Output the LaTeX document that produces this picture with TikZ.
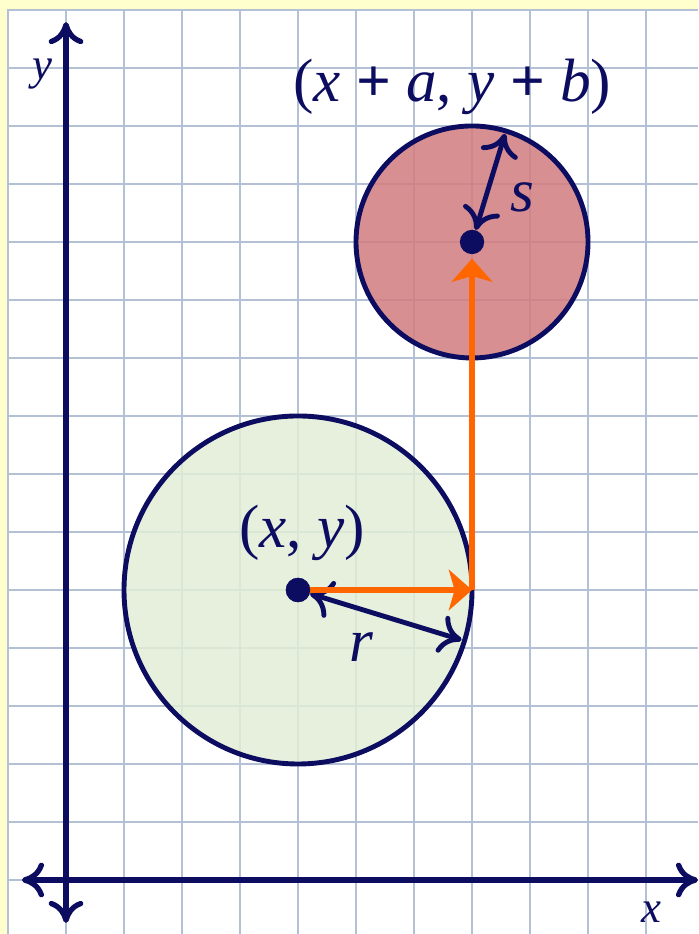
\documentclass[tikz,border=0pt]{standalone}
\usepackage{fontspec}
\setmainfont{Liberation Serif}
\usetikzlibrary{arrows.meta}
\definecolor{navy}{RGB}{12,12,96}
\definecolor{morange}{RGB}{255,102,0}
\definecolor{gridc}{RGB}{180,192,212}
\definecolor{mgreen}{RGB}{226,238,214}
\definecolor{mred}{RGB}{210,124,126}
\definecolor{myellow}{RGB}{255,255,206}
\begin{document}
\begin{tikzpicture}[
  axis/.style={navy,line width=2.6pt,
    {Computer Modern Rightarrow[length=0.38cm,width=0.6cm]}-{Computer Modern Rightarrow[length=0.38cm,width=0.6cm]}},
  rim/.style={navy,line width=2.4pt,fill opacity=0.85},
  move/.style={morange,line width=3pt,-{Stealth[length=0.4cm,width=0.7cm,inset=0.1cm]}},
  rad/.style={navy,line width=2.4pt,
    {Computer Modern Rightarrow[length=0.38cm,width=0.66cm]}-{Computer Modern Rightarrow[length=0.38cm,width=0.66cm]}},
  dot/.style={circle,fill=navy,inner sep=0pt,minimum size=0.42cm},
  lbl/.style={navy,font=\fontsize{30}{36}\selectfont},
  axlbl/.style={navy,font=\fontsize{22}{26}\selectfont},
]
\useasboundingbox (-1.138,-0.931) rectangle (10.897,15.172);
\fill[myellow] (-1.138,-0.931) rectangle (10.897,15.172);
\fill[white] (-1,-0.931) rectangle (10.897,15);
\draw[gridc,line width=0.8pt] (-1,-0.931) grid (10.897,15);
\draw[gridc,line width=0.8pt] (-1,-0.931) -- (-1,15) -- (10.897,15);

\draw[rim,fill=mgreen] (4,5) circle[radius=3];
\draw[rim,fill=mred] (7,11) circle[radius=2];

\coordinate (xl) at (-0.76,0);
\coordinate (xr) at (10.897,0);
\coordinate (yb) at (0,-0.74);
\coordinate (yt) at (0,14.79);
\draw[axis] (xl) -- (xr);
\draw[axis] (yb) -- (yt);
\node[axlbl] (xlab) at (10.1,-0.55) {\textit{x}};
\node[axlbl] (ylab) at (-0.4,13.9) {\textit{y}};

\node[dot] (cA) at (4,5) {};
\node[dot] (cB) at (7,11) {};
\coordinate (turn) at (7,5);
\path (cA.center) ++(-17:2.95) coordinate (rA);
\path (cB.center) ++(73:1.95) coordinate (rB);

\draw[rad] (cA) -- (rA);
\draw[rad] (cB) -- (rB);
\draw[move] (cA.center) -- (turn);
\draw[move,shorten >=0.07cm] (turn) -- (cB);
\node[dot] at (cA) {};

\node[lbl] (lA) at (4.07,5.98) {(\textit{x}, \textit{y})};
\node[lbl] (lB) at (6.66,13.67) {(\textit{x} \textbf{+} \textit{a}, \textit{y} \textbf{+} \textit{b})};
\node[lbl] (lr) at (5.1,4.02) {\textit{r}};
\node[lbl] (ls) at (7.86,11.77) {\textit{s}};
\end{tikzpicture}
\end{document}
